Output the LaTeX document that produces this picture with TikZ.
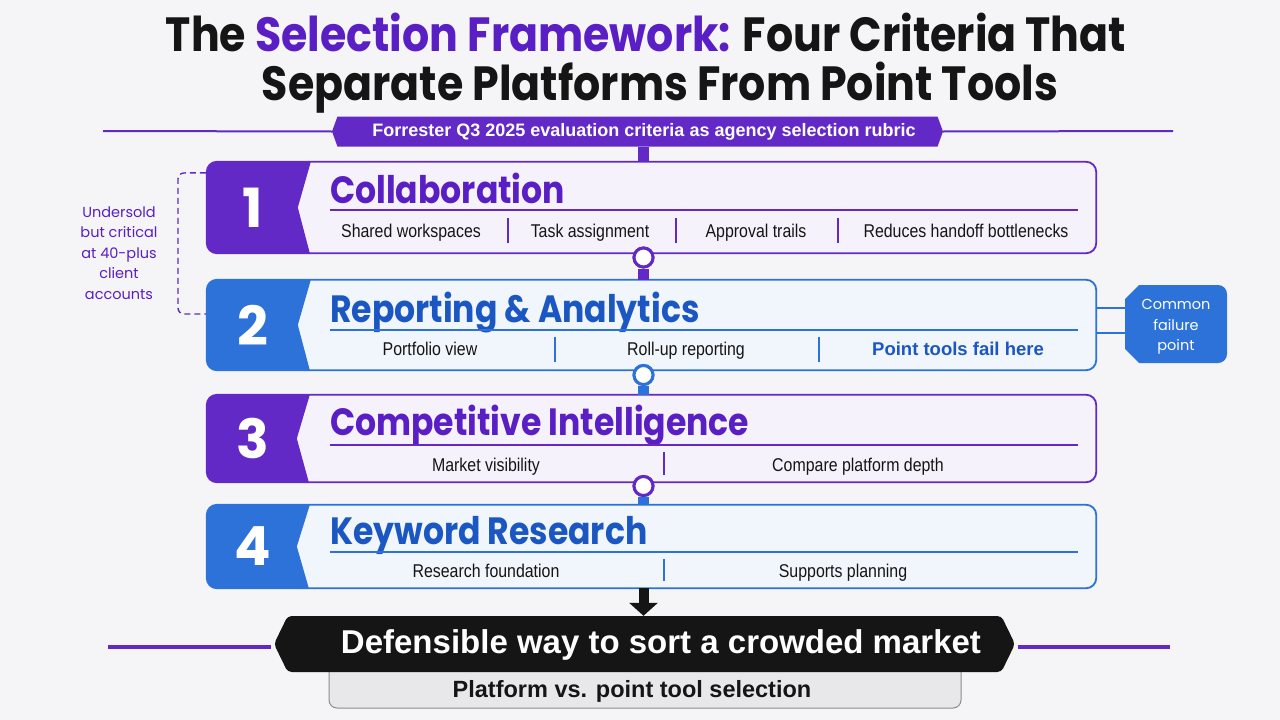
\documentclass[tikz,border=0pt]{standalone}
\usepackage{fontspec}
\setmainfont{Liberation Sans}
\newfontfamily\popf{Poppins}
\newfontfamily\titlef{Poppins}[FakeStretch=0.89]
\newfontfamily\headf{Poppins}[FakeStretch=0.87]
\newfontfamily\condf{Liberation Sans}[FakeStretch=0.86]
\usetikzlibrary{calc,shapes.symbols,arrows.meta}
\definecolor{bg}{HTML}{F5F5F8}
\definecolor{pur}{HTML}{6329C6}
\definecolor{purT}{HTML}{5A1FC4}
\definecolor{blu}{HTML}{2C72D8}
\definecolor{bluT}{HTML}{1B57C2}
\definecolor{pfill}{HTML}{F6F2FC}
\definecolor{bfill}{HTML}{F1F5FC}
\definecolor{ink}{HTML}{151515}
\definecolor{greyfill}{HTML}{E8E8EB}
\definecolor{greyline}{HTML}{8C8C90}
\tikzset{
  critbox/.style={minimum width=889, inner sep=0, rounded corners=10},
  numtxt/.style={text=white, font=\popf\bfseries\fontsize{54}{54}\selectfont, inner sep=0},
  headtxt/.style={anchor=base west, inner sep=0, font=\headf\bfseries\fontsize{38}{38}\selectfont},
  itm/.style={anchor=base, text=ink, inner sep=0, font=\condf\fontsize{18.5}{18.5}\selectfont},
  sepline/.style={line width=1.3},
  joint/.style={circle, fill=white, line width=3, minimum size=19, inner sep=0},
  bar/.style={line width=11},
  notetxt/.style={align=center, font=\popf\fontsize{14.5}{20.5}\selectfont, inner sep=0},
}
\begin{document}
\begin{tikzpicture}[x=1pt,y=-1pt]
\fill[bg] (0,0) rectangle (1280,720);
\useasboundingbox (0,0) rectangle (1280,720);

% title
\node[anchor=base, inner sep=0, text=ink, font=\titlef\bfseries\fontsize{48}{48}\selectfont] (t1) at (646,51)
  {The \textcolor{purT}{Selection Framework:} Four Criteria That};
\node[anchor=base, inner sep=0, text=ink, font=\titlef\bfseries\fontsize{48}{48}\selectfont] (t2) at (660,100)
  {Separate Platforms From Point Tools};

% banner
\coordinate (tl) at (103,131);
\coordinate (tr) at (1173,131);
\node[signal, signal to=west and east, signal pointer angle=140, fill=pur,
      minimum width=611, minimum height=30, inner sep=0] (ban) at (637.5,131.5) {};
\node[inner sep=0, text=white, font=\bfseries\fontsize{18}{18}\selectfont] (bant) at (644,132)
  {Forrester Q3 2025 evaluation criteria as agency selection rubric};
\draw[pur, line width=2] (ban.west) -- (tl);
\draw[pur, line width=2] (ban.east) -- (tr);

% ---------- boxes ----------
% box 1
\node[critbox, fill=pfill, minimum height=91] (b1) at (651.5,207.5) {};
\begin{scope}
\clip[rounded corners=10] (b1.north west) rectangle (b1.south east);
\fill[pur] (b1.north west) -- ($(b1.north west)+(104,0)$) -- ($(b1.west)+(91,0)$) -- ($(b1.south west)+(103,0)$) -- (b1.south west) -- cycle;
\end{scope}
\draw[pur, line width=1.8, rounded corners=10] (b1.north west) rectangle (b1.south east);
\node[numtxt] (n1) at ($(b1.west)+(46,0)$) {1};
\node[headtxt, text=purT] (h1) at (330,203) {Collaboration};
\draw[pur, line width=1.3] (330,210) -- (1078,210);
\node[itm] (i11) at (411,237) {Shared workspaces};
\node[itm] (i12) at (590,237) {Task assignment};
\node[itm] (i13) at (756,237) {Approval trails};
\node[itm] (i14) at (966,237) {Reduces handoff bottlenecks};
\draw[pur, sepline] (508,218) -- (508,243);
\draw[pur, sepline] (676,218) -- (676,243);
\draw[pur, sepline] (838,218) -- (838,243);

% box 2
\node[critbox, fill=bfill, minimum height=90] (b2) at (651.5,325) {};
\begin{scope}
\clip[rounded corners=10] (b2.north west) rectangle (b2.south east);
\fill[blu] (b2.north west) -- ($(b2.north west)+(104,0)$) -- ($(b2.west)+(91,0)$) -- ($(b2.south west)+(103,0)$) -- (b2.south west) -- cycle;
\end{scope}
\draw[blu, line width=1.8, rounded corners=10] (b2.north west) rectangle (b2.south east);
\node[numtxt] (n2) at ($(b2.west)+(46,0)$) {2};
\node[headtxt, text=bluT] (h2) at (330,322) {Reporting \& Analytics};
\draw[blu, line width=1.3] (330,330) -- (1078,330);
\node[itm] (i21) at (430,355) {Portfolio view};
\node[itm] (i22) at (686,355) {Roll-up reporting};
\node[itm, text=bluT, font=\bfseries\fontsize{18.5}{18.5}\selectfont] (i23) at (958,355) {Point tools fail here};
\draw[blu, sepline] (555,337) -- (555,362);
\draw[blu, sepline] (819,337) -- (819,362);

% box 3
\node[critbox, fill=pfill, minimum height=87] (b3) at (651.5,438.5) {};
\begin{scope}
\clip[rounded corners=10] (b3.north west) rectangle (b3.south east);
\fill[pur] (b3.north west) -- ($(b3.north west)+(103,0)$) -- ($(b3.west)+(90,0)$) -- ($(b3.south west)+(102,0)$) -- (b3.south west) -- cycle;
\end{scope}
\draw[pur, line width=1.8, rounded corners=10] (b3.north west) rectangle (b3.south east);
\node[numtxt] (n3) at ($(b3.west)+(46,0)$) {3};
\node[headtxt, text=purT] (h3) at (330,435) {Competitive Intelligence};
\draw[pur, line width=1.3] (330,445) -- (1078,445);
\node[itm] (i31) at (486,471) {Market visibility};
\node[itm] (i32) at (858,471) {Compare platform depth};
\draw[pur, sepline] (664,452) -- (664,475);

% box 4
\node[critbox, fill=bfill, minimum height=83] (b4) at (651.5,546.5) {};
\begin{scope}
\clip[rounded corners=10] (b4.north west) rectangle (b4.south east);
\fill[blu] (b4.north west) -- ($(b4.north west)+(103,0)$) -- ($(b4.west)+(90,0)$) -- ($(b4.south west)+(102,0)$) -- (b4.south west) -- cycle;
\end{scope}
\draw[blu, line width=1.8, rounded corners=10] (b4.north west) rectangle (b4.south east);
\node[numtxt] (n4) at ($(b4.west)+(46,0)$) {4};
\node[headtxt, text=bluT] (h4) at (330,544) {Keyword Research};
\draw[blu, line width=1.3] (330,552) -- (1078,552);
\node[itm] (i41) at (486,577) {Research foundation};
\node[itm] (i42) at (843,577) {Supports planning};
\draw[blu, sepline] (664,559) -- (664,581);

% ---------- connectors ----------
\node[joint, draw=pur] (c1) at (643.5,257.5) {};
\node[joint, draw=blu] (c2) at (643.5,375) {};
\node[joint, draw=pur] (c3) at (643.5,486) {};
\draw[pur, bar] (ban.south -| c1) -- (b1.north -| c1);
\draw[pur, bar] (c1.south) -- (b2.north -| c1);
\draw[blu, bar] (c2.south) -- (b3.north -| c2);
\draw[blu, bar] (c3.south) -- (b4.north -| c3);
\node[joint, draw=pur] at (c1) {};
\node[joint, draw=blu] at (c2) {};
\node[joint, draw=pur] at (c3) {};

% ---------- bottom ----------
\node[rounded corners=8, fill=greyfill, draw=greyline, line width=1, minimum width=632, minimum height=48, inner sep=0] (sub) at (645,684) {};
\node[inner sep=0, text=ink, font=\bfseries\fontsize{23.5}{23.5}\selectfont] (subt) at (632,691) {Platform vs. point tool selection};
\node[signal, signal to=west and east, signal pointer angle=128, fill=ink, rounded corners=4,
      minimum width=741, minimum height=56, inner sep=0] (fin) at (644.5,644) {};
\node[inner sep=0, text=white, font=\bfseries\fontsize{33}{33}\selectfont] (fint) at (661,645) {Defensible way to sort a crowded market};
\coordinate (fl) at (108,647);
\coordinate (fr) at (1170,647);
\draw[pur, line width=4] ($(fin.west)+(-3,3)$) -- (fl);
\draw[pur, line width=4] ($(fin.east)+(3,3)$) -- (fr);
\draw[ink, line width=10, -{Triangle[width=28,length=13]}] (b4.south -| c3) -- (fin.north -| c3);

% ---------- annotations ----------
\node[notetxt, text=purT] (note1) at (119,253) {Undersold\\but critical\\at 40-plus\\client\\accounts};
\draw[pur, line width=1.4, dash pattern=on 6pt off 4pt, rounded corners=6]
  ($(b1.north west)+(-1,11)$) -- (178,173) -- (178,314) -- ($(b2.west)+(-1,-11)$);

\fill[blu] (1125,299) -- (1139,285) [rounded corners=9] -- (1227,285) -- (1227,363) [sharp corners] -- (1139,363) -- (1125,349) -- cycle;
\node[notetxt, text=white, minimum width=102, minimum height=78] (cfp) at (1176,327) {Common\\failure\\point};
\draw[blu, line width=1.3] ($(b2.east)+(0,-17)$) -- ($(cfp.west)+(0,-19)$);
\draw[blu, line width=1.3] ($(b2.east)+(0,8)$) -- ($(cfp.west)+(0,6)$);
\end{tikzpicture}
\end{document}
